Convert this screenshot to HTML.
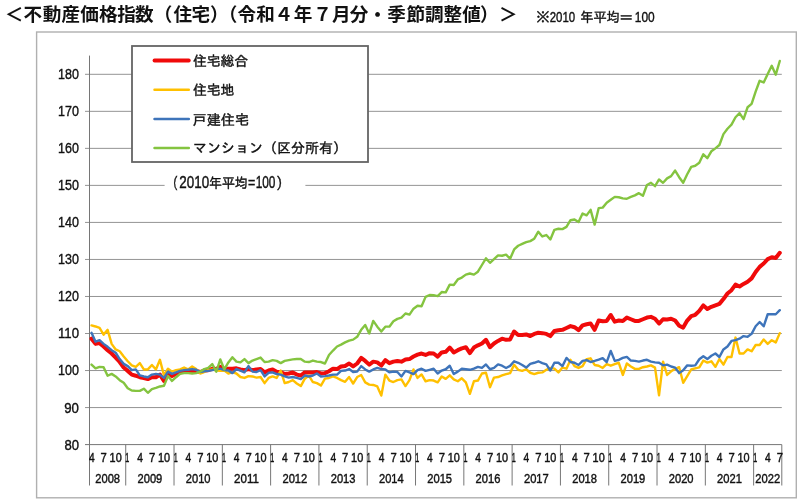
<!DOCTYPE html>
<html lang="ja"><head><meta charset="utf-8"><title>不動産価格指数（住宅）</title>
<style>html,body{margin:0;padding:0;background:#fff;}body{width:800px;height:501px;overflow:hidden;}svg{display:block;}</style></head><body>
<svg width="800" height="501" viewBox="0 0 800 501">
<rect x="0" y="0" width="800" height="501" fill="#ffffff"/>
<text y="21.1" font-size="18.6" font-weight="bold" font-family='"Liberation Sans", "Noto Sans CJK JP", sans-serif' fill="#111" x="4.70 23.46 42.64 61.48 80.32 98.95 117.29 135.11 153.78 173.39 191.56 210.12 218.78 237.48 256.26 274.51 293.82 313.20 332.00 349.75 368.20 387.20 406.51 425.03 443.43 462.23 480.12 499.12">＜不動産価格指数（住宅）（令和４年７月分・季節調整値）＞</text>
<rect x="36.6" y="32.0" width="759.7" height="465.8" fill="#fff" stroke="#b0b0b0" stroke-width="1.4"/>
<line x1="85.0" y1="444.60" x2="781.8" y2="444.60" stroke="#767676" stroke-width="1"/>
<line x1="85.0" y1="407.57" x2="781.8" y2="407.57" stroke="#949494" stroke-width="1"/>
<line x1="85.0" y1="370.54" x2="781.8" y2="370.54" stroke="#949494" stroke-width="1"/>
<line x1="85.0" y1="333.51" x2="781.8" y2="333.51" stroke="#949494" stroke-width="1"/>
<line x1="85.0" y1="296.48" x2="781.8" y2="296.48" stroke="#949494" stroke-width="1"/>
<line x1="85.0" y1="259.45" x2="781.8" y2="259.45" stroke="#949494" stroke-width="1"/>
<line x1="85.0" y1="222.42" x2="781.8" y2="222.42" stroke="#949494" stroke-width="1"/>
<line x1="85.0" y1="185.39" x2="781.8" y2="185.39" stroke="#949494" stroke-width="1"/>
<line x1="85.0" y1="148.36" x2="781.8" y2="148.36" stroke="#949494" stroke-width="1"/>
<line x1="85.0" y1="111.33" x2="781.8" y2="111.33" stroke="#949494" stroke-width="1"/>
<line x1="85.0" y1="74.30" x2="781.8" y2="74.30" stroke="#949494" stroke-width="1"/>
<line x1="89.5" y1="55.6" x2="89.5" y2="485.5" stroke="#767676" stroke-width="1"/>
<line x1="125.72" y1="444.60" x2="125.72" y2="485.5" stroke="#767676" stroke-width="1"/>
<line x1="174.03" y1="444.60" x2="174.03" y2="485.5" stroke="#767676" stroke-width="1"/>
<line x1="222.33" y1="444.60" x2="222.33" y2="485.5" stroke="#767676" stroke-width="1"/>
<line x1="270.62" y1="444.60" x2="270.62" y2="485.5" stroke="#767676" stroke-width="1"/>
<line x1="318.93" y1="444.60" x2="318.93" y2="485.5" stroke="#767676" stroke-width="1"/>
<line x1="367.23" y1="444.60" x2="367.23" y2="485.5" stroke="#767676" stroke-width="1"/>
<line x1="415.53" y1="444.60" x2="415.53" y2="485.5" stroke="#767676" stroke-width="1"/>
<line x1="463.83" y1="444.60" x2="463.83" y2="485.5" stroke="#767676" stroke-width="1"/>
<line x1="512.12" y1="444.60" x2="512.12" y2="485.5" stroke="#767676" stroke-width="1"/>
<line x1="560.43" y1="444.60" x2="560.43" y2="485.5" stroke="#767676" stroke-width="1"/>
<line x1="608.73" y1="444.60" x2="608.73" y2="485.5" stroke="#767676" stroke-width="1"/>
<line x1="657.03" y1="444.60" x2="657.03" y2="485.5" stroke="#767676" stroke-width="1"/>
<line x1="705.33" y1="444.60" x2="705.33" y2="485.5" stroke="#767676" stroke-width="1"/>
<line x1="753.63" y1="444.60" x2="753.63" y2="485.5" stroke="#767676" stroke-width="1"/>
<line x1="781.80" y1="444.60" x2="781.80" y2="485.5" stroke="#767676" stroke-width="1"/>
<polyline points="91.51,338.69 95.54,343.88 99.56,343.14 103.59,346.47 107.61,350.17 111.64,353.51 115.66,357.58 119.69,362.02 123.71,367.58 127.74,370.91 131.76,374.61 135.79,375.72 139.81,377.21 143.84,377.95 147.86,379.06 151.89,377.21 155.91,377.21 159.94,374.61 163.96,380.91 167.99,373.87 172.01,376.09 176.04,373.87 180.06,372.39 184.09,371.65 188.11,370.91 192.14,371.28 196.16,370.91 200.19,372.02 204.21,370.54 208.24,370.17 212.26,368.87 216.29,369.06 220.31,366.84 224.34,369.06 228.36,368.69 232.39,368.69 236.41,368.32 240.44,369.43 244.46,370.17 248.49,369.06 252.51,370.17 256.54,369.43 260.56,369.06 264.59,372.39 268.61,370.54 272.64,369.43 276.66,371.65 280.69,372.02 284.71,374.06 288.74,373.50 292.76,372.39 296.79,374.61 300.81,375.54 304.84,372.39 308.86,372.39 312.89,372.39 316.91,372.02 320.94,373.50 324.96,373.13 328.99,371.28 333.01,368.69 337.04,369.06 341.06,366.47 345.09,365.91 349.11,363.50 353.14,366.47 357.16,363.50 361.19,357.95 365.21,360.91 369.24,364.62 373.26,361.65 377.29,362.39 381.31,365.54 385.34,360.17 389.36,363.13 393.39,361.65 397.41,360.91 401.44,361.65 405.46,359.43 409.49,359.06 413.51,356.47 417.54,354.62 421.56,353.51 425.59,354.99 429.61,353.14 433.64,353.51 437.66,356.65 441.69,352.40 445.71,351.84 449.74,347.58 453.76,352.40 457.79,350.17 461.81,348.32 465.84,347.21 469.86,353.14 473.89,347.58 477.91,345.36 481.94,343.51 485.96,339.81 489.99,347.21 494.01,343.51 498.04,340.92 502.06,338.69 506.09,339.81 510.11,339.43 514.14,331.47 518.16,334.99 522.19,334.99 526.21,334.44 530.24,336.10 534.26,333.88 538.29,332.77 542.31,333.14 546.34,333.88 550.36,336.10 554.39,330.92 558.41,330.18 562.44,329.81 566.46,327.96 570.49,326.10 574.51,327.21 578.54,330.18 582.56,325.36 586.59,324.25 590.61,323.51 594.64,329.81 598.66,320.55 602.69,321.29 606.71,320.92 610.74,315.00 614.76,321.66 618.79,320.55 622.81,320.92 626.84,317.59 630.86,319.25 634.89,320.92 638.91,320.92 642.94,319.25 646.96,317.59 650.99,316.85 655.01,318.70 659.04,323.51 663.06,319.25 667.09,319.44 671.11,318.70 675.14,320.55 679.16,325.73 683.19,327.59 687.21,320.55 691.24,316.11 695.26,314.81 699.29,310.92 703.31,305.37 707.34,309.07 711.36,306.85 715.39,305.37 719.41,303.89 723.44,299.07 727.46,293.52 731.49,290.18 735.51,284.63 739.54,286.48 743.56,283.89 747.59,281.67 751.61,278.34 755.64,272.04 759.66,266.86 763.69,263.52 767.71,259.08 771.74,257.23 775.76,257.97 779.79,252.78" fill="none" stroke="#f00a0a" stroke-width="4.0" stroke-linejoin="round" stroke-linecap="round"/>
<polyline points="91.51,325.36 95.54,326.47 99.56,327.96 103.59,334.62 107.61,329.81 111.64,343.88 115.66,349.43 119.69,351.28 123.71,356.47 127.74,361.28 131.76,365.36 135.79,366.84 139.81,363.13 143.84,369.43 147.86,369.43 151.89,364.99 155.91,369.43 159.94,359.80 163.96,375.35 167.99,368.69 172.01,371.65 176.04,370.17 180.06,369.43 184.09,367.58 188.11,369.43 192.14,366.47 196.16,369.06 200.19,373.50 204.21,372.02 208.24,370.17 212.26,369.43 216.29,370.54 220.31,370.91 224.34,370.54 228.36,373.50 232.39,372.02 236.41,373.50 240.44,377.02 244.46,377.95 248.49,376.09 252.51,376.46 256.54,377.58 260.56,377.02 264.59,383.13 268.61,377.95 272.64,376.46 276.66,377.95 280.69,370.54 284.71,383.13 288.74,382.02 292.76,380.17 296.79,383.50 300.81,386.09 304.84,378.69 308.86,375.54 312.89,382.02 316.91,383.13 320.94,385.54 324.96,378.69 328.99,377.95 333.01,376.46 337.04,377.95 341.06,380.17 345.09,381.83 349.11,377.02 353.14,383.50 357.16,377.02 361.19,374.98 365.21,382.39 369.24,384.61 373.26,384.98 377.29,386.46 381.31,395.54 385.34,374.61 389.36,380.54 393.39,382.02 397.41,380.17 401.44,379.43 405.46,386.09 409.49,380.17 413.51,369.43 417.54,377.95 421.56,374.43 425.59,381.28 429.61,380.17 433.64,380.54 437.66,382.39 441.69,376.46 445.71,378.87 449.74,375.35 453.76,379.43 457.79,381.28 461.81,378.32 465.84,382.39 469.86,393.87 473.89,381.28 477.91,380.54 481.94,373.50 485.96,372.76 489.99,387.20 494.01,377.58 498.04,377.02 502.06,375.35 506.09,374.06 510.11,373.13 514.14,364.80 518.16,369.80 522.19,370.91 526.21,369.24 530.24,372.76 534.26,374.06 538.29,372.76 542.31,372.39 546.34,369.80 550.36,367.95 554.39,368.69 558.41,372.39 562.44,367.58 566.46,368.69 570.49,359.80 574.51,366.10 578.54,367.95 582.56,366.10 586.59,359.06 590.61,358.32 594.64,364.99 598.66,365.73 602.69,367.95 606.71,364.24 610.74,365.73 614.76,364.06 618.79,362.76 622.81,374.98 626.84,363.50 630.86,366.47 634.89,368.87 638.91,368.87 642.94,367.21 646.96,366.47 650.99,365.36 655.01,367.58 659.04,395.35 663.06,361.65 667.09,374.98 671.11,371.28 675.14,368.87 679.16,367.21 683.19,382.76 687.21,376.09 691.24,369.43 695.26,368.32 699.29,367.39 703.31,360.54 707.34,362.58 711.36,361.28 715.39,366.84 719.41,359.06 723.44,364.62 727.46,357.02 731.49,357.02 735.51,337.58 739.54,353.51 743.56,353.51 747.59,349.43 751.61,351.28 755.64,344.99 759.66,344.99 763.69,339.43 767.71,343.88 771.74,340.18 775.76,342.40 779.79,333.14" fill="none" stroke="#ffc000" stroke-width="2.4" stroke-linejoin="round" stroke-linecap="round"/>
<polyline points="91.51,332.77 95.54,341.66 99.56,340.18 103.59,343.88 107.61,346.84 111.64,350.17 115.66,352.77 119.69,359.06 123.71,363.87 127.74,366.10 131.76,370.17 135.79,369.43 139.81,375.35 143.84,376.46 147.86,377.21 151.89,374.61 155.91,373.87 159.94,374.61 163.96,377.95 167.99,371.65 172.01,373.87 176.04,372.39 180.06,370.91 184.09,370.17 188.11,369.80 192.14,369.06 196.16,369.80 200.19,372.02 204.21,371.28 208.24,370.91 212.26,370.17 216.29,369.43 220.31,368.69 224.34,370.17 228.36,370.54 232.39,373.13 236.41,369.06 240.44,370.54 244.46,372.39 248.49,366.10 252.51,371.65 256.54,372.02 260.56,370.17 264.59,376.46 268.61,372.76 272.64,372.39 276.66,374.06 280.69,374.61 284.71,376.46 288.74,377.58 292.76,377.02 296.79,377.95 300.81,379.06 304.84,375.54 308.86,376.46 312.89,375.54 316.91,373.50 320.94,376.46 324.96,376.09 328.99,375.54 333.01,374.61 337.04,374.61 341.06,370.91 345.09,370.54 349.11,369.06 353.14,372.02 357.16,371.65 361.19,366.10 365.21,369.43 369.24,371.65 373.26,369.43 377.29,367.95 381.31,369.06 385.34,369.43 389.36,372.39 393.39,371.65 397.41,372.02 401.44,376.46 405.46,370.91 409.49,372.39 413.51,374.06 417.54,370.17 421.56,368.69 425.59,370.91 429.61,369.80 433.64,368.69 437.66,373.50 441.69,370.54 445.71,369.24 449.74,365.73 453.76,374.06 457.79,371.65 461.81,368.69 465.84,369.24 469.86,369.80 473.89,368.69 477.91,366.84 481.94,367.95 485.96,364.43 489.99,369.24 494.01,367.95 498.04,364.43 502.06,365.73 506.09,367.95 510.11,365.91 514.14,361.28 518.16,362.76 522.19,364.99 526.21,367.58 530.24,363.87 534.26,362.76 538.29,361.28 542.31,363.13 546.34,364.43 550.36,370.54 554.39,362.76 558.41,362.76 562.44,366.10 566.46,357.95 570.49,362.02 574.51,362.76 578.54,364.99 582.56,360.91 586.59,360.17 590.61,362.02 594.64,360.91 598.66,359.62 602.69,358.13 606.71,362.21 610.74,350.91 614.76,360.91 618.79,359.80 622.81,357.95 626.84,356.84 630.86,360.54 634.89,360.91 638.91,361.65 642.94,360.54 646.96,359.80 650.99,361.65 655.01,362.39 659.04,362.76 663.06,365.36 667.09,364.62 671.11,366.47 675.14,367.58 679.16,373.13 683.19,370.17 687.21,365.36 691.24,365.73 695.26,365.36 699.29,359.25 703.31,356.28 707.34,359.06 711.36,355.73 715.39,353.51 719.41,357.02 723.44,349.43 727.46,346.47 731.49,340.92 735.51,340.18 739.54,338.69 743.56,336.10 747.59,336.84 751.61,333.88 755.64,326.29 759.66,322.03 763.69,326.29 767.71,314.25 771.74,314.25 775.76,314.25 779.79,310.18" fill="none" stroke="#3e74ba" stroke-width="2.4" stroke-linejoin="round" stroke-linecap="round"/>
<polyline points="91.51,364.62 95.54,368.32 99.56,366.84 103.59,367.21 107.61,375.72 111.64,373.87 115.66,376.46 119.69,380.17 123.71,382.76 127.74,388.31 131.76,390.54 135.79,390.91 139.81,390.91 143.84,388.68 147.86,392.76 151.89,389.06 155.91,387.94 159.94,386.46 163.96,385.72 167.99,376.09 172.01,380.91 176.04,377.21 180.06,373.87 184.09,373.13 188.11,373.13 192.14,373.50 196.16,373.13 200.19,371.65 204.21,369.06 208.24,367.95 212.26,364.06 216.29,371.65 220.31,359.43 224.34,369.43 228.36,362.39 232.39,357.21 236.41,361.65 240.44,362.39 244.46,359.06 248.49,363.13 252.51,360.54 256.54,359.06 260.56,357.58 264.59,362.02 268.61,361.65 272.64,360.17 276.66,360.91 280.69,363.13 284.71,360.91 288.74,360.17 292.76,359.43 296.79,359.06 300.81,359.06 304.84,361.65 308.86,362.02 312.89,360.54 316.91,361.65 320.94,362.02 324.96,363.50 328.99,354.99 333.01,350.54 337.04,346.47 341.06,344.62 345.09,342.40 349.11,340.55 353.14,339.62 357.16,336.84 361.19,329.81 365.21,324.99 369.24,333.51 373.26,320.92 377.29,326.66 381.31,331.47 385.34,326.66 389.36,326.66 393.39,321.29 397.41,318.88 401.44,317.59 405.46,313.51 409.49,314.62 413.51,308.70 417.54,305.74 421.56,306.29 425.59,296.85 429.61,295.00 433.64,295.18 437.66,296.11 441.69,292.04 445.71,292.41 449.74,284.63 453.76,285.00 457.79,279.45 461.81,277.59 465.84,274.63 469.86,273.52 473.89,274.63 477.91,271.67 481.94,265.00 485.96,258.34 489.99,262.78 494.01,259.08 498.04,255.38 502.06,255.75 506.09,254.64 510.11,258.71 514.14,249.45 518.16,245.75 522.19,243.90 526.21,242.05 530.24,241.12 534.26,238.71 538.29,231.68 542.31,236.49 546.34,235.01 550.36,239.45 554.39,229.83 558.41,228.72 562.44,229.09 566.46,226.86 570.49,220.20 574.51,219.46 578.54,222.05 582.56,213.53 586.59,215.38 590.61,209.83 594.64,224.64 598.66,208.16 602.69,207.61 606.71,202.79 610.74,199.83 614.76,196.87 618.79,197.24 622.81,198.35 626.84,198.72 630.86,196.87 634.89,195.39 638.91,193.17 642.94,195.76 646.96,185.02 650.99,182.80 655.01,186.13 659.04,179.47 663.06,182.80 667.09,178.35 671.11,176.13 675.14,170.58 679.16,177.24 683.19,182.80 687.21,174.28 691.24,166.88 695.26,165.76 699.29,162.80 703.31,154.28 707.34,158.17 711.36,151.32 715.39,148.36 719.41,145.03 723.44,134.10 727.46,128.73 731.49,124.66 735.51,117.25 739.54,113.18 743.56,119.11 747.59,107.26 751.61,103.92 755.64,91.70 759.66,80.78 763.69,82.45 767.71,73.93 771.74,65.78 775.76,74.67 779.79,60.97" fill="none" stroke="#84c440" stroke-width="2.4" stroke-linejoin="round" stroke-linecap="round"/>
<rect x="164.6" y="172" width="140.8" height="20" fill="#fff"/>
<rect x="132" y="46" width="236" height="116" fill="#fff" stroke="#646464" stroke-width="1.8"/>
<line x1="154.5" y1="60.5" x2="188.8" y2="60.5" stroke="#f00a0a" stroke-width="3.8" stroke-linecap="round"/>
<line x1="154.5" y1="89.7" x2="188.8" y2="89.7" stroke="#ffc000" stroke-width="2.5" stroke-linecap="round"/>
<line x1="154.5" y1="119.1" x2="188.8" y2="119.1" stroke="#3e74ba" stroke-width="2.5" stroke-linecap="round"/>
<line x1="154.5" y1="147.9" x2="188.8" y2="147.9" stroke="#84c440" stroke-width="2.5" stroke-linecap="round"/>
<text transform="translate(64.38 449.55) scale(0.862 1)" font-size="15.21" font-weight="normal" font-family='"Liberation Sans", "IPAGothic", sans-serif' fill="#111" stroke="#111" stroke-width="0.4">80</text>
<text transform="translate(64.24 412.52) scale(0.870 1)" font-size="15.21" font-weight="normal" font-family='"Liberation Sans", "IPAGothic", sans-serif' fill="#111" stroke="#111" stroke-width="0.4">90</text>
<text transform="translate(58.00 375.49) scale(0.823 1)" font-size="15.21" font-weight="normal" font-family='"Liberation Sans", "IPAGothic", sans-serif' fill="#111" stroke="#111" stroke-width="0.4">100</text>
<text transform="translate(57.94 338.46) scale(0.868 1)" font-size="15.21" font-weight="normal" font-family='"Liberation Sans", "IPAGothic", sans-serif' fill="#111" stroke="#111" stroke-width="0.4">110</text>
<text transform="translate(58.00 301.43) scale(0.823 1)" font-size="15.21" font-weight="normal" font-family='"Liberation Sans", "IPAGothic", sans-serif' fill="#111" stroke="#111" stroke-width="0.4">120</text>
<text transform="translate(58.00 264.40) scale(0.823 1)" font-size="15.21" font-weight="normal" font-family='"Liberation Sans", "IPAGothic", sans-serif' fill="#111" stroke="#111" stroke-width="0.4">130</text>
<text transform="translate(58.00 227.37) scale(0.823 1)" font-size="15.21" font-weight="normal" font-family='"Liberation Sans", "IPAGothic", sans-serif' fill="#111" stroke="#111" stroke-width="0.4">140</text>
<text transform="translate(58.00 190.34) scale(0.823 1)" font-size="15.21" font-weight="normal" font-family='"Liberation Sans", "IPAGothic", sans-serif' fill="#111" stroke="#111" stroke-width="0.4">150</text>
<text transform="translate(58.00 153.31) scale(0.823 1)" font-size="15.21" font-weight="normal" font-family='"Liberation Sans", "IPAGothic", sans-serif' fill="#111" stroke="#111" stroke-width="0.4">160</text>
<text transform="translate(58.00 116.28) scale(0.823 1)" font-size="15.21" font-weight="normal" font-family='"Liberation Sans", "IPAGothic", sans-serif' fill="#111" stroke="#111" stroke-width="0.4">170</text>
<text transform="translate(58.00 79.25) scale(0.823 1)" font-size="15.21" font-weight="normal" font-family='"Liberation Sans", "IPAGothic", sans-serif' fill="#111" stroke="#111" stroke-width="0.4">180</text>
<text transform="translate(95.26 482.68) scale(0.898 1)" font-size="12.39" font-weight="normal" font-family='"Liberation Sans", "IPAGothic", sans-serif' fill="#111" stroke="#111" stroke-width="0.4">2008</text>
<text transform="translate(137.52 482.68) scale(0.898 1)" font-size="12.39" font-weight="normal" font-family='"Liberation Sans", "IPAGothic", sans-serif' fill="#111" stroke="#111" stroke-width="0.4">2009</text>
<text transform="translate(185.82 482.68) scale(0.898 1)" font-size="12.39" font-weight="normal" font-family='"Liberation Sans", "IPAGothic", sans-serif' fill="#111" stroke="#111" stroke-width="0.4">2010</text>
<text transform="translate(234.10 482.68) scale(0.933 1)" font-size="12.39" font-weight="normal" font-family='"Liberation Sans", "IPAGothic", sans-serif' fill="#111" stroke="#111" stroke-width="0.4">2011</text>
<text transform="translate(282.42 482.68) scale(0.902 1)" font-size="12.39" font-weight="normal" font-family='"Liberation Sans", "IPAGothic", sans-serif' fill="#111" stroke="#111" stroke-width="0.4">2012</text>
<text transform="translate(330.72 482.68) scale(0.898 1)" font-size="12.39" font-weight="normal" font-family='"Liberation Sans", "IPAGothic", sans-serif' fill="#111" stroke="#111" stroke-width="0.4">2013</text>
<text transform="translate(379.02 482.68) scale(0.894 1)" font-size="12.39" font-weight="normal" font-family='"Liberation Sans", "IPAGothic", sans-serif' fill="#111" stroke="#111" stroke-width="0.4">2014</text>
<text transform="translate(427.32 482.68) scale(0.898 1)" font-size="12.39" font-weight="normal" font-family='"Liberation Sans", "IPAGothic", sans-serif' fill="#111" stroke="#111" stroke-width="0.4">2015</text>
<text transform="translate(475.62 482.68) scale(0.898 1)" font-size="12.39" font-weight="normal" font-family='"Liberation Sans", "IPAGothic", sans-serif' fill="#111" stroke="#111" stroke-width="0.4">2016</text>
<text transform="translate(523.92 482.68) scale(0.902 1)" font-size="12.39" font-weight="normal" font-family='"Liberation Sans", "IPAGothic", sans-serif' fill="#111" stroke="#111" stroke-width="0.4">2017</text>
<text transform="translate(572.22 482.68) scale(0.898 1)" font-size="12.39" font-weight="normal" font-family='"Liberation Sans", "IPAGothic", sans-serif' fill="#111" stroke="#111" stroke-width="0.4">2018</text>
<text transform="translate(620.52 482.68) scale(0.898 1)" font-size="12.39" font-weight="normal" font-family='"Liberation Sans", "IPAGothic", sans-serif' fill="#111" stroke="#111" stroke-width="0.4">2019</text>
<text transform="translate(668.82 482.68) scale(0.898 1)" font-size="12.39" font-weight="normal" font-family='"Liberation Sans", "IPAGothic", sans-serif' fill="#111" stroke="#111" stroke-width="0.4">2020</text>
<text transform="translate(717.12 482.68) scale(0.902 1)" font-size="12.39" font-weight="normal" font-family='"Liberation Sans", "IPAGothic", sans-serif' fill="#111" stroke="#111" stroke-width="0.4">2021</text>
<text transform="translate(755.35 482.68) scale(0.902 1)" font-size="12.39" font-weight="normal" font-family='"Liberation Sans", "IPAGothic", sans-serif' fill="#111" stroke="#111" stroke-width="0.4">2022</text>
<text transform="translate(88.91 462.12) scale(0.816 1)" font-size="12.50" font-weight="normal" font-family='"Liberation Sans", "IPAGothic", sans-serif' fill="#111" stroke="#111" stroke-width="0.4">4</text>
<text transform="translate(100.62 462.12) scale(0.904 1)" font-size="12.50" font-weight="normal" font-family='"Liberation Sans", "IPAGothic", sans-serif' fill="#111" stroke="#111" stroke-width="0.4">7</text>
<text transform="translate(109.59 461.88) scale(0.911 1)" font-size="11.97" font-weight="normal" font-family='"Liberation Sans", "IPAGothic", sans-serif' fill="#111" stroke="#111" stroke-width="0.4">10</text>
<text transform="translate(125.36 462.00) scale(0.585 1)" font-size="12.32" font-weight="normal" font-family='"Liberation Sans", "IPAGothic", sans-serif' fill="#111" stroke="#111" stroke-width="0.4">1</text>
<text transform="translate(137.21 462.12) scale(0.816 1)" font-size="12.50" font-weight="normal" font-family='"Liberation Sans", "IPAGothic", sans-serif' fill="#111" stroke="#111" stroke-width="0.4">4</text>
<text transform="translate(148.92 462.12) scale(0.904 1)" font-size="12.50" font-weight="normal" font-family='"Liberation Sans", "IPAGothic", sans-serif' fill="#111" stroke="#111" stroke-width="0.4">7</text>
<text transform="translate(157.89 461.88) scale(0.911 1)" font-size="11.97" font-weight="normal" font-family='"Liberation Sans", "IPAGothic", sans-serif' fill="#111" stroke="#111" stroke-width="0.4">10</text>
<text transform="translate(173.66 462.00) scale(0.585 1)" font-size="12.32" font-weight="normal" font-family='"Liberation Sans", "IPAGothic", sans-serif' fill="#111" stroke="#111" stroke-width="0.4">1</text>
<text transform="translate(185.51 462.12) scale(0.816 1)" font-size="12.50" font-weight="normal" font-family='"Liberation Sans", "IPAGothic", sans-serif' fill="#111" stroke="#111" stroke-width="0.4">4</text>
<text transform="translate(197.22 462.12) scale(0.904 1)" font-size="12.50" font-weight="normal" font-family='"Liberation Sans", "IPAGothic", sans-serif' fill="#111" stroke="#111" stroke-width="0.4">7</text>
<text transform="translate(206.19 461.88) scale(0.911 1)" font-size="11.97" font-weight="normal" font-family='"Liberation Sans", "IPAGothic", sans-serif' fill="#111" stroke="#111" stroke-width="0.4">10</text>
<text transform="translate(221.96 462.00) scale(0.585 1)" font-size="12.32" font-weight="normal" font-family='"Liberation Sans", "IPAGothic", sans-serif' fill="#111" stroke="#111" stroke-width="0.4">1</text>
<text transform="translate(233.81 462.12) scale(0.816 1)" font-size="12.50" font-weight="normal" font-family='"Liberation Sans", "IPAGothic", sans-serif' fill="#111" stroke="#111" stroke-width="0.4">4</text>
<text transform="translate(245.52 462.12) scale(0.904 1)" font-size="12.50" font-weight="normal" font-family='"Liberation Sans", "IPAGothic", sans-serif' fill="#111" stroke="#111" stroke-width="0.4">7</text>
<text transform="translate(254.49 461.88) scale(0.911 1)" font-size="11.97" font-weight="normal" font-family='"Liberation Sans", "IPAGothic", sans-serif' fill="#111" stroke="#111" stroke-width="0.4">10</text>
<text transform="translate(270.26 462.00) scale(0.585 1)" font-size="12.32" font-weight="normal" font-family='"Liberation Sans", "IPAGothic", sans-serif' fill="#111" stroke="#111" stroke-width="0.4">1</text>
<text transform="translate(282.11 462.12) scale(0.816 1)" font-size="12.50" font-weight="normal" font-family='"Liberation Sans", "IPAGothic", sans-serif' fill="#111" stroke="#111" stroke-width="0.4">4</text>
<text transform="translate(293.82 462.12) scale(0.904 1)" font-size="12.50" font-weight="normal" font-family='"Liberation Sans", "IPAGothic", sans-serif' fill="#111" stroke="#111" stroke-width="0.4">7</text>
<text transform="translate(302.79 461.88) scale(0.911 1)" font-size="11.97" font-weight="normal" font-family='"Liberation Sans", "IPAGothic", sans-serif' fill="#111" stroke="#111" stroke-width="0.4">10</text>
<text transform="translate(318.56 462.00) scale(0.585 1)" font-size="12.32" font-weight="normal" font-family='"Liberation Sans", "IPAGothic", sans-serif' fill="#111" stroke="#111" stroke-width="0.4">1</text>
<text transform="translate(330.41 462.12) scale(0.816 1)" font-size="12.50" font-weight="normal" font-family='"Liberation Sans", "IPAGothic", sans-serif' fill="#111" stroke="#111" stroke-width="0.4">4</text>
<text transform="translate(342.12 462.12) scale(0.904 1)" font-size="12.50" font-weight="normal" font-family='"Liberation Sans", "IPAGothic", sans-serif' fill="#111" stroke="#111" stroke-width="0.4">7</text>
<text transform="translate(351.09 461.88) scale(0.911 1)" font-size="11.97" font-weight="normal" font-family='"Liberation Sans", "IPAGothic", sans-serif' fill="#111" stroke="#111" stroke-width="0.4">10</text>
<text transform="translate(366.86 462.00) scale(0.585 1)" font-size="12.32" font-weight="normal" font-family='"Liberation Sans", "IPAGothic", sans-serif' fill="#111" stroke="#111" stroke-width="0.4">1</text>
<text transform="translate(378.71 462.12) scale(0.816 1)" font-size="12.50" font-weight="normal" font-family='"Liberation Sans", "IPAGothic", sans-serif' fill="#111" stroke="#111" stroke-width="0.4">4</text>
<text transform="translate(390.42 462.12) scale(0.904 1)" font-size="12.50" font-weight="normal" font-family='"Liberation Sans", "IPAGothic", sans-serif' fill="#111" stroke="#111" stroke-width="0.4">7</text>
<text transform="translate(399.39 461.88) scale(0.911 1)" font-size="11.97" font-weight="normal" font-family='"Liberation Sans", "IPAGothic", sans-serif' fill="#111" stroke="#111" stroke-width="0.4">10</text>
<text transform="translate(415.16 462.00) scale(0.585 1)" font-size="12.32" font-weight="normal" font-family='"Liberation Sans", "IPAGothic", sans-serif' fill="#111" stroke="#111" stroke-width="0.4">1</text>
<text transform="translate(427.01 462.12) scale(0.816 1)" font-size="12.50" font-weight="normal" font-family='"Liberation Sans", "IPAGothic", sans-serif' fill="#111" stroke="#111" stroke-width="0.4">4</text>
<text transform="translate(438.72 462.12) scale(0.904 1)" font-size="12.50" font-weight="normal" font-family='"Liberation Sans", "IPAGothic", sans-serif' fill="#111" stroke="#111" stroke-width="0.4">7</text>
<text transform="translate(447.69 461.88) scale(0.911 1)" font-size="11.97" font-weight="normal" font-family='"Liberation Sans", "IPAGothic", sans-serif' fill="#111" stroke="#111" stroke-width="0.4">10</text>
<text transform="translate(463.46 462.00) scale(0.585 1)" font-size="12.32" font-weight="normal" font-family='"Liberation Sans", "IPAGothic", sans-serif' fill="#111" stroke="#111" stroke-width="0.4">1</text>
<text transform="translate(475.31 462.12) scale(0.816 1)" font-size="12.50" font-weight="normal" font-family='"Liberation Sans", "IPAGothic", sans-serif' fill="#111" stroke="#111" stroke-width="0.4">4</text>
<text transform="translate(487.02 462.12) scale(0.904 1)" font-size="12.50" font-weight="normal" font-family='"Liberation Sans", "IPAGothic", sans-serif' fill="#111" stroke="#111" stroke-width="0.4">7</text>
<text transform="translate(495.99 461.88) scale(0.911 1)" font-size="11.97" font-weight="normal" font-family='"Liberation Sans", "IPAGothic", sans-serif' fill="#111" stroke="#111" stroke-width="0.4">10</text>
<text transform="translate(511.76 462.00) scale(0.585 1)" font-size="12.32" font-weight="normal" font-family='"Liberation Sans", "IPAGothic", sans-serif' fill="#111" stroke="#111" stroke-width="0.4">1</text>
<text transform="translate(523.61 462.12) scale(0.816 1)" font-size="12.50" font-weight="normal" font-family='"Liberation Sans", "IPAGothic", sans-serif' fill="#111" stroke="#111" stroke-width="0.4">4</text>
<text transform="translate(535.32 462.12) scale(0.904 1)" font-size="12.50" font-weight="normal" font-family='"Liberation Sans", "IPAGothic", sans-serif' fill="#111" stroke="#111" stroke-width="0.4">7</text>
<text transform="translate(544.29 461.88) scale(0.911 1)" font-size="11.97" font-weight="normal" font-family='"Liberation Sans", "IPAGothic", sans-serif' fill="#111" stroke="#111" stroke-width="0.4">10</text>
<text transform="translate(560.06 462.00) scale(0.585 1)" font-size="12.32" font-weight="normal" font-family='"Liberation Sans", "IPAGothic", sans-serif' fill="#111" stroke="#111" stroke-width="0.4">1</text>
<text transform="translate(571.91 462.12) scale(0.816 1)" font-size="12.50" font-weight="normal" font-family='"Liberation Sans", "IPAGothic", sans-serif' fill="#111" stroke="#111" stroke-width="0.4">4</text>
<text transform="translate(583.62 462.12) scale(0.904 1)" font-size="12.50" font-weight="normal" font-family='"Liberation Sans", "IPAGothic", sans-serif' fill="#111" stroke="#111" stroke-width="0.4">7</text>
<text transform="translate(592.59 461.88) scale(0.911 1)" font-size="11.97" font-weight="normal" font-family='"Liberation Sans", "IPAGothic", sans-serif' fill="#111" stroke="#111" stroke-width="0.4">10</text>
<text transform="translate(608.36 462.00) scale(0.585 1)" font-size="12.32" font-weight="normal" font-family='"Liberation Sans", "IPAGothic", sans-serif' fill="#111" stroke="#111" stroke-width="0.4">1</text>
<text transform="translate(620.21 462.12) scale(0.816 1)" font-size="12.50" font-weight="normal" font-family='"Liberation Sans", "IPAGothic", sans-serif' fill="#111" stroke="#111" stroke-width="0.4">4</text>
<text transform="translate(631.92 462.12) scale(0.904 1)" font-size="12.50" font-weight="normal" font-family='"Liberation Sans", "IPAGothic", sans-serif' fill="#111" stroke="#111" stroke-width="0.4">7</text>
<text transform="translate(640.89 461.88) scale(0.911 1)" font-size="11.97" font-weight="normal" font-family='"Liberation Sans", "IPAGothic", sans-serif' fill="#111" stroke="#111" stroke-width="0.4">10</text>
<text transform="translate(656.66 462.00) scale(0.585 1)" font-size="12.32" font-weight="normal" font-family='"Liberation Sans", "IPAGothic", sans-serif' fill="#111" stroke="#111" stroke-width="0.4">1</text>
<text transform="translate(668.51 462.12) scale(0.816 1)" font-size="12.50" font-weight="normal" font-family='"Liberation Sans", "IPAGothic", sans-serif' fill="#111" stroke="#111" stroke-width="0.4">4</text>
<text transform="translate(680.22 462.12) scale(0.904 1)" font-size="12.50" font-weight="normal" font-family='"Liberation Sans", "IPAGothic", sans-serif' fill="#111" stroke="#111" stroke-width="0.4">7</text>
<text transform="translate(689.19 461.88) scale(0.911 1)" font-size="11.97" font-weight="normal" font-family='"Liberation Sans", "IPAGothic", sans-serif' fill="#111" stroke="#111" stroke-width="0.4">10</text>
<text transform="translate(704.96 462.00) scale(0.585 1)" font-size="12.32" font-weight="normal" font-family='"Liberation Sans", "IPAGothic", sans-serif' fill="#111" stroke="#111" stroke-width="0.4">1</text>
<text transform="translate(716.81 462.12) scale(0.816 1)" font-size="12.50" font-weight="normal" font-family='"Liberation Sans", "IPAGothic", sans-serif' fill="#111" stroke="#111" stroke-width="0.4">4</text>
<text transform="translate(728.52 462.12) scale(0.904 1)" font-size="12.50" font-weight="normal" font-family='"Liberation Sans", "IPAGothic", sans-serif' fill="#111" stroke="#111" stroke-width="0.4">7</text>
<text transform="translate(737.49 461.88) scale(0.911 1)" font-size="11.97" font-weight="normal" font-family='"Liberation Sans", "IPAGothic", sans-serif' fill="#111" stroke="#111" stroke-width="0.4">10</text>
<text transform="translate(753.26 462.00) scale(0.585 1)" font-size="12.32" font-weight="normal" font-family='"Liberation Sans", "IPAGothic", sans-serif' fill="#111" stroke="#111" stroke-width="0.4">1</text>
<text transform="translate(765.11 462.12) scale(0.816 1)" font-size="12.50" font-weight="normal" font-family='"Liberation Sans", "IPAGothic", sans-serif' fill="#111" stroke="#111" stroke-width="0.4">4</text>
<text transform="translate(776.82 462.12) scale(0.904 1)" font-size="12.50" font-weight="normal" font-family='"Liberation Sans", "IPAGothic", sans-serif' fill="#111" stroke="#111" stroke-width="0.4">7</text>
<text transform="translate(166.38 188.90) scale(0.734 1)" font-size="15.73" font-weight="normal" font-family='"Liberation Sans", "IPAGothic", sans-serif' fill="#111" stroke="#111" stroke-width="0.4">（</text>
<text transform="translate(179.33 188.44) scale(0.851 1)" font-size="15.77" font-weight="normal" font-family='"Liberation Sans", "IPAGothic", sans-serif' fill="#111" stroke="#111" stroke-width="0.4">2010</text>
<text transform="translate(209.10 188.42) scale(0.925 1)" font-size="13.93" font-weight="normal" font-family='"Liberation Sans", "IPAGothic", sans-serif' fill="#111" stroke="#111" stroke-width="0.4">年平均</text>
<text transform="translate(247.97 188.04) scale(0.870 1)" font-size="14.37" font-weight="normal" font-family='"Liberation Sans", "IPAGothic", sans-serif' fill="#111" stroke="#111" stroke-width="0.4">=</text>
<text transform="translate(255.65 188.44) scale(0.753 1)" font-size="15.77" font-weight="normal" font-family='"Liberation Sans", "IPAGothic", sans-serif' fill="#111" stroke="#111" stroke-width="0.4">100</text>
<text transform="translate(276.29 188.90) scale(0.880 1)" font-size="15.73" font-weight="normal" font-family='"Liberation Sans", "IPAGothic", sans-serif' fill="#111" stroke="#111" stroke-width="0.4">）</text>
<text x="192.95" y="66.20" font-size="13.81" font-weight="normal" font-family='"Liberation Sans", "IPAGothic", sans-serif' fill="#111" stroke="#111" stroke-width="0.4">住宅総合</text>
<text x="192.95" y="94.93" font-size="13.83" font-weight="normal" font-family='"Liberation Sans", "IPAGothic", sans-serif' fill="#111" stroke="#111" stroke-width="0.4">住宅地</text>
<text x="192.56" y="124.91" font-size="14.11" font-weight="normal" font-family='"Liberation Sans", "IPAGothic", sans-serif' fill="#111" stroke="#111" stroke-width="0.4">戸建住宅</text>
<text x="192.91" y="153.49" font-size="14.03" font-weight="normal" font-family='"Liberation Sans", "IPAGothic", sans-serif' fill="#111" stroke="#111" stroke-width="0.4">マンション（区分所有）</text>
<text transform="translate(536.05 21.89) scale(1.009 1)" font-size="13.78" font-weight="normal" font-family='"Liberation Sans", "IPAGothic", sans-serif' fill="#111" stroke="#111" stroke-width="0.4">※</text>
<text transform="translate(549.73 21.75) scale(0.790 1)" font-size="14.51" font-weight="normal" font-family='"Liberation Sans", "IPAGothic", sans-serif' fill="#111" stroke="#111" stroke-width="0.4">2010</text>
<text transform="translate(580.28 21.79) scale(0.965 1)" font-size="13.65" font-weight="normal" font-family='"Liberation Sans", "IPAGothic", sans-serif' fill="#111" stroke="#111" stroke-width="0.4">年平均</text>
<text transform="translate(618.54 22.80) scale(1.024 1)" font-size="15.00" font-weight="normal" font-family='"Liberation Sans", "IPAGothic", sans-serif' fill="#111" stroke="#111" stroke-width="0.4">＝</text>
<text transform="translate(634.85 21.75) scale(0.823 1)" font-size="14.51" font-weight="normal" font-family='"Liberation Sans", "IPAGothic", sans-serif' fill="#111" stroke="#111" stroke-width="0.4">100</text>
</svg></body></html>
